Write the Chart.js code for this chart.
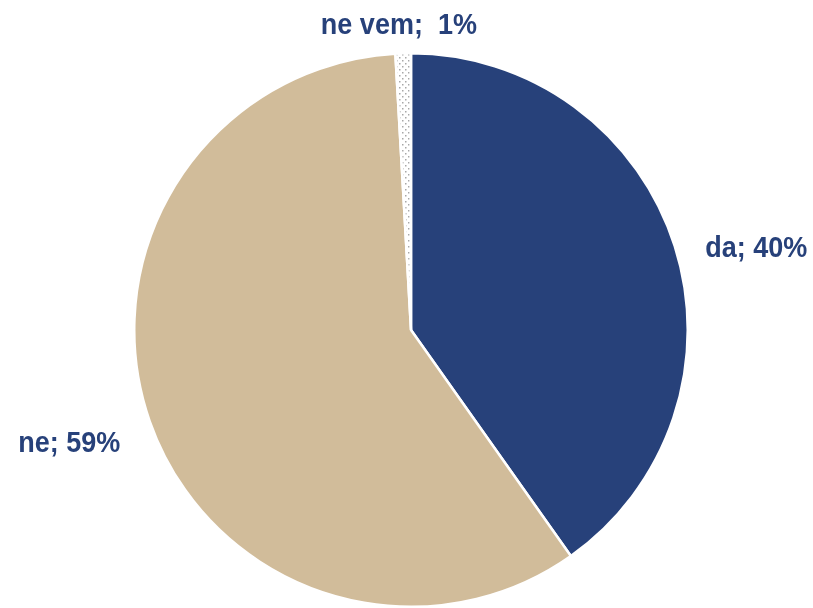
<!DOCTYPE html>
<html>
<head>
<meta charset="utf-8">
<script src="https://cdn.jsdelivr.net/npm/chart.js@4/dist/chart.umd.min.js"></script>
<style>
html,body{margin:0;padding:0;background:#fff;}
#wrap{width:813px;height:608px;position:relative;}
</style>
</head>
<body>
<div id="wrap"><canvas id="c" width="813" height="608"></canvas></div>
<script>
const categories = ["da", "ne", "ne vem"];
const values = [40.2, 58.9, 0.9];
const labelPercents = ["40%", "59%", "1%"];

function dotPattern(){
  const p = document.createElement('canvas');
  p.width = 6; p.height = 6;
  const g = p.getContext('2d');
  g.fillStyle = '#ffffff';
  g.fillRect(0,0,6,6);
  g.fillStyle = '#a8a8a8';
  g.fillRect(0,0,1.5,1.5);
  g.fillRect(3,3,1.5,1.5);
  return g.createPattern(p,'repeat');
}
const ctx0 = document.getElementById('c').getContext('2d');
const colors = ['#27417A', '#D1BC9A', dotPattern()];

const labelPlugin = {
  id: 'outLabels',
  afterDatasetsDraw(chart){
    const ctx = chart.ctx;
    const meta = chart.getDatasetMeta(0);
    meta.data.forEach((arc, i) => {
      const mid = (arc.startAngle + arc.endAngle) / 2;
      const r = arc.outerRadius + 10;
      const x = arc.x + Math.cos(mid) * r;
      const y = arc.y + Math.sin(mid) * r;
      const text = i === 2 ? categories[i] + ';  ' + labelPercents[i] : categories[i] + '; ' + labelPercents[i];
      const cx = Math.cos(mid);
      let tx, ty, align;
      if (Math.abs(cx) < 0.2) { align = 'center'; tx = x - 4; ty = y - 9; }
      else if (cx > 0) { align = 'left'; tx = x + 21; ty = y + 14; }
      else { align = 'right'; tx = x - 20; ty = y + 27; }
      ctx.save();
      ctx.font = 'bold 27px "Liberation Sans", Arial, sans-serif';
      ctx.fillStyle = '#27417A';
      ctx.textBaseline = 'alphabetic';
      ctx.textAlign = align;
      ctx.translate(tx, ty);
      ctx.scale(1, 1.12);
      ctx.fillText(text, 0, 0);
      ctx.restore();
    });
  }
};

new Chart(ctx0, {
  type: 'pie',
  data: {
    labels: categories,
    datasets: [{
      data: values,
      backgroundColor: colors,
      borderColor: '#ffffff',
      borderWidth: 2.5,
      hoverOffset: 0
    }]
  },
  options: {
    responsive: false,
    animation: false,
    layout: { padding: { top: 52, bottom: 0, left: 9, right: 0 } },
    plugins: {
      legend: { display: false },
      tooltip: { enabled: false }
    }
  },
  plugins: [labelPlugin]
});
</script>
</body>
</html>
